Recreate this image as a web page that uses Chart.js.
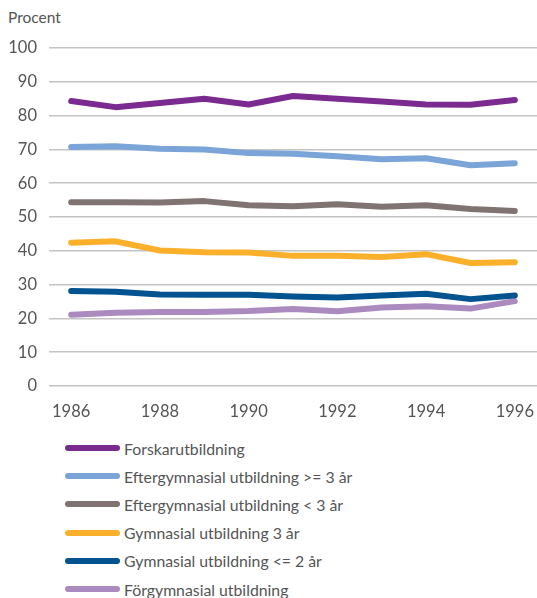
<!DOCTYPE html>
<html>
<head>
<meta charset="utf-8">
<script src="https://cdn.jsdelivr.net/npm/chart.js@4"></script>
<style>
    html, body { margin: 0; padding: 0; background: #fff; }
    body { width: 537px; height: 598px; overflow: hidden; position: relative; font-family: Lato, 'Open Sans', sans-serif; color: #555; }
    #unit { position: absolute; left: 8px; top: 8px; font-size: 15.5px; }
    #chartWrap { position: absolute; left: 0; top: 0; width: 537px; height: 426px; }
    #legend { position: absolute; left: 65px; top: 434px; }
    .legend_row { height: 28.2px; display: flex; align-items: center; font-size: 15.8px; white-space: nowrap; }
    .legend_line { width: 55px; height: 6px; border-radius: 3px; margin-right: 4px; }
</style>
</head>
<body>
<div id="unit">Procent</div>
<div id="chartWrap"><canvas id="lineChart"></canvas></div>
<div id="legend"></div>
<script>
const years = ['1986', '1987', '1988', '1989', '1990', '1991', '1992', '1993', '1994', '1995', '1996'];

const seriesNames = [
    'Forskarutbildning',
    'Eftergymnasial utbildning >= 3 år',
    'Eftergymnasial utbildning < 3 år',
    'Gymnasial utbildning 3 år',
    'Gymnasial utbildning <= 2 år',
    'Förgymnasial utbildning'
];

const forskar = [84.3, 82.5, 83.7, 85.0, 83.3, 85.8, 85.0, 84.2, 83.3, 83.2, 84.6];
const efterLang = [70.7, 70.9, 70.2, 70.0, 68.9, 68.7, 68.0, 67.1, 67.4, 65.3, 65.9];
const efterKort = [54.4, 54.4, 54.3, 54.7, 53.5, 53.2, 53.8, 53.0, 53.5, 52.4, 51.8];
const gymn3 = [42.4, 42.8, 40.1, 39.6, 39.5, 38.5, 38.5, 38.2, 39.0, 36.4, 36.6];
const gymn2 = [28.1, 27.9, 27.1, 27.0, 27.0, 26.5, 26.2, 26.8, 27.3, 25.7, 26.8];
const forgymn = [21.1, 21.7, 21.9, 21.9, 22.2, 22.8, 22.1, 23.2, 23.6, 22.9, 25.1];

const yTicks = [0, 10, 20, 30, 40, 50, 60, 70, 80, 90, 100];

const seriesValues = [forskar, efterLang, efterKort, gymn3, gymn2, forgymn];
const seriesColors = ['#7B2A8F', '#7BA4D8', '#807473', '#FBB02B', '#02538F', '#AB8AC0'];

const fontFamily = "Lato, 'Open Sans', sans-serif";

document.addEventListener('DOMContentLoaded', function() {
    initChart();
    buildLegend();
});

function initChart() {
    const ctx = document.getElementById('lineChart');

    new Chart(ctx, {
        type: 'line',
        data: {
            labels: years,
            datasets: seriesNames.map((name, i) => ({
                label: name,
                data: seriesValues[i],
                borderColor: seriesColors[i],
                backgroundColor: seriesColors[i],
                borderWidth: 6,
                borderCapStyle: 'round',
                borderJoinStyle: 'round',
                tension: 0,
                pointRadius: 0,
                fill: false
            }))
        },
        options: {
            responsive: true,
            maintainAspectRatio: false,
            animation: false,
            layout: { padding: { top: 48, left: 0, right: 0, bottom: 0 } },
            plugins: {
                legend: { display: false },
                tooltip: { enabled: false }
            },
            scales: {
                x: {
                    offset: true,
                    grid: { display: false, drawTicks: false },
                    border: { display: false },
                    afterFit: scale => {
                        scale.height = 40;
                        scale.paddingLeft = 0;
                        scale.paddingRight = 0;
                    },
                    ticks: {
                        autoSkip: false,
                        maxRotation: 0,
                        padding: 16,
                        color: '#555',
                        font: { family: fontFamily, size: 16.5 },
                        callback: function(v, i) { return i % 2 === 0 ? years[i] : ''; }
                    }
                },
                y: {
                    min: 0,
                    max: 100,
                    afterFit: scale => { scale.width = 49; },
                    afterBuildTicks: scale => { scale.ticks = yTicks.map(v => ({ value: v })); },
                    grid: { color: '#c4c4c4', lineWidth: 1.5, drawTicks: false },
                    border: { display: false },
                    ticks: {
                        padding: 12,
                        color: '#555',
                        font: { family: fontFamily, size: 16.5 }
                    }
                }
            }
        }
    });
}

function buildLegend() {
    const legend = document.getElementById('legend');
    seriesNames.forEach((name, i) => {
        const row = document.createElement('div');
        row.className = 'legend_row';
        const line = document.createElement('span');
        line.className = 'legend_line';
        line.style.background = seriesColors[i];
        const text = document.createElement('span');
        text.textContent = name;
        row.appendChild(line);
        row.appendChild(text);
        legend.appendChild(row);
    });
}
</script>
</body>
</html>
